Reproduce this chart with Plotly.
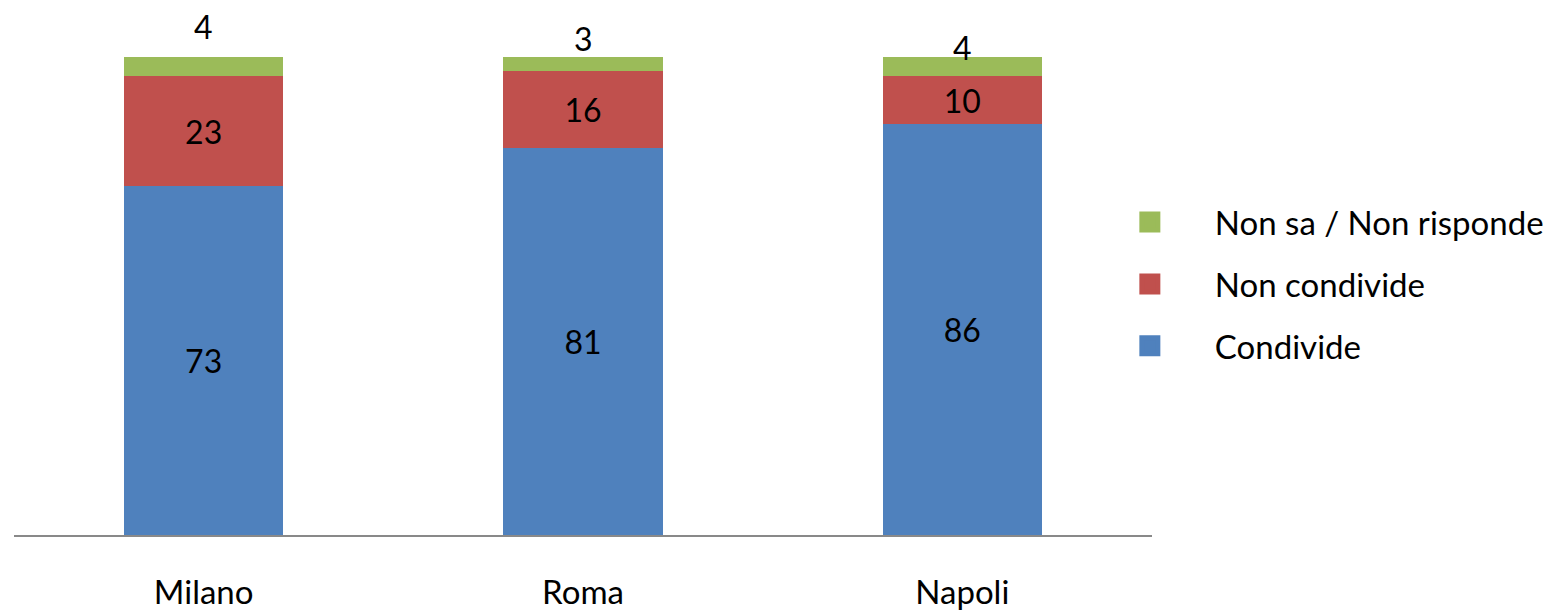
import plotly.graph_objects as go

# Survey results by city (percent)
cities = ["Milano", "Roma", "Napoli"]
condivide = [73, 81, 86]
non_condivide = [23, 16, 10]
non_sa = [4, 3, 4]

series_names = ["Condivide", "Non condivide", "Non sa / Non risponde"]
colors = ["#4F81BD", "#C0504D", "#9BBB59"]

FONT = "Lato"
FS = 33

# vertical offsets (px) of the "Non sa" labels above each bar
label_shift = [31, 19, 10]

fig = go.Figure()

for name, vals, col in zip(series_names, [condivide, non_condivide], colors[:2]):
    fig.add_trace(go.Bar(
        x=cities, y=vals, name=name, marker=dict(color=col, line=dict(width=0)),
        text=[str(v) for v in vals], textposition="inside",
        insidetextanchor="middle", textangle=0,
        textfont=dict(family=FONT, size=FS - 1, color="black"),
        showlegend=False, hoverinfo="skip",
    ))

fig.add_trace(go.Bar(
    x=cities, y=non_sa, name=series_names[2],
    marker=dict(color=colors[2], line=dict(width=0)),
    showlegend=False, hoverinfo="skip",
))

# labels for the thin top segment, placed above each bar
totals = [a + b + c for a, b, c in zip(condivide, non_condivide, non_sa)]
for city, tot, v, sh in zip(cities, totals, non_sa, label_shift):
    fig.add_annotation(x=city, y=tot, text=str(v), showarrow=False,
                       yanchor="middle", yshift=sh,
                       font=dict(family=FONT, size=FS - 1, color="black"))

# legend entries with larger square swatches
for name, col in reversed(list(zip(series_names, colors))):
    fig.add_trace(go.Scatter(
        x=[None], y=[None], mode="markers", name=name, legendgroup=name,
        marker=dict(symbol="square", size=16, color=col,
                    line=dict(color=col, width=5)),
    ))

fig.update_layout(
    width=1557, height=613,
    barmode="stack", bargap=0.58,
    plot_bgcolor="white", paper_bgcolor="white",
    margin=dict(l=14, r=405, t=57, b=78, autoexpand=False),
    font=dict(family=FONT, size=FS, color="black"),
    showlegend=True,
    legend=dict(x=0.941, xanchor="left", y=0.525, yanchor="middle",
                traceorder="grouped", tracegroupgap=16, itemwidth=120,
                font=dict(family=FONT, size=FS, color="black"),
                bgcolor="rgba(0,0,0,0)"),
    xaxis=dict(showline=True, linecolor="#898989", linewidth=2,
               ticks="", showgrid=False, range=[-0.5, 2.5],
               automargin=False,
               tickfont=dict(family=FONT, size=FS, color="black"),
               ticklabelstandoff=27),
    yaxis=dict(range=[0, 100], visible=False, showgrid=False,
               automargin=False),
)

fig.write_html("out.html")
